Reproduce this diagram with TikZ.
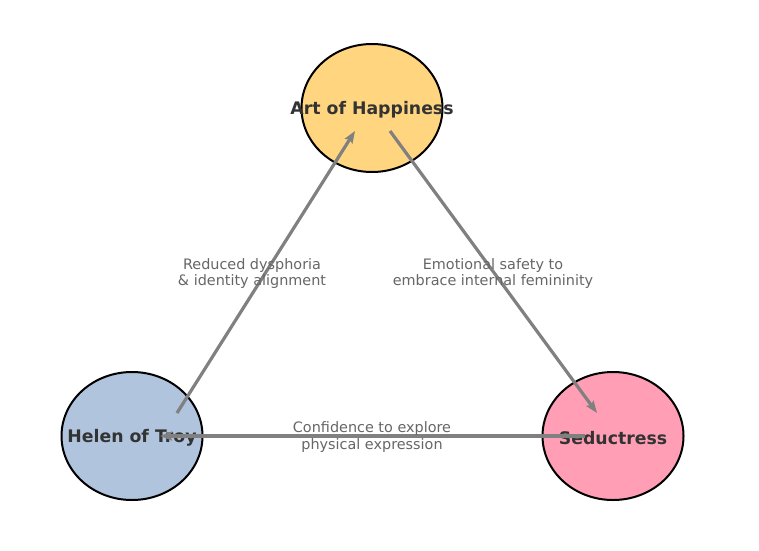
\documentclass[tikz,border=0pt]{standalone}
\usepackage{fontspec}
\setmainfont{DejaVu Sans}
\usetikzlibrary{arrows.meta,shapes.geometric}
\definecolor{artfill}{HTML}{FFD580}
\definecolor{helenfill}{HTML}{B0C4DE}
\definecolor{sedfill}{HTML}{FF9EB5}
\tikzstyle{rel} = [draw=gray,line width=3.2pt,-{Stealth[length=12pt,width=9pt,inset=2pt]}]

\begin{document}
\begin{tikzpicture}
		[
		x=1pt,y=1pt,
		block/.style={
		draw,
		ellipse,
		line width=2pt,
		minimum width=141pt,
		minimum height=128pt,
		inner sep=0pt,
		label={[text=black!80,yshift=-2pt,font=\fontsize{17.3}{20}\selectfont\bfseries]center:#1}},
		tag/.style={
		text=black!60,
		align=center,
		font=\fontsize{14.4}{16.5}\selectfont}
		]
		\useasboundingbox (0,0) rectangle (759,550);
		\node[block=Art of Happiness,fill=artfill](art) at (372,442) {};
		\node[block=Helen of Troy,fill=helenfill](helen) at (132,114) {};
		\node[block=Seductress,fill=sedfill](seductress) at (613,114) {};
		\draw[rel] ([shift={(45,23)}]helen.center) -- ([shift={(-17,-23)}]art.center);
		\draw[rel] ([shift={(18,-23)}]art.center) -- ([shift={(-16,23)}]seductress.center);
		\draw[rel] ([shift={(-28,0)}]seductress.center) -- ([shift={(28,0)}]helen.center);
		\node[tag](tag_dysphoria) at (252,276.5) {Reduced dysphoria\\\& identity alignment};
		\node[tag](tag_safety) at (493,276.5) {Emotional safety to\\embrace internal femininity};
		\node[tag](tag_confidence) at (372,113) {Confidence to explore\\physical expression};
		\end{tikzpicture}
\end{document}
